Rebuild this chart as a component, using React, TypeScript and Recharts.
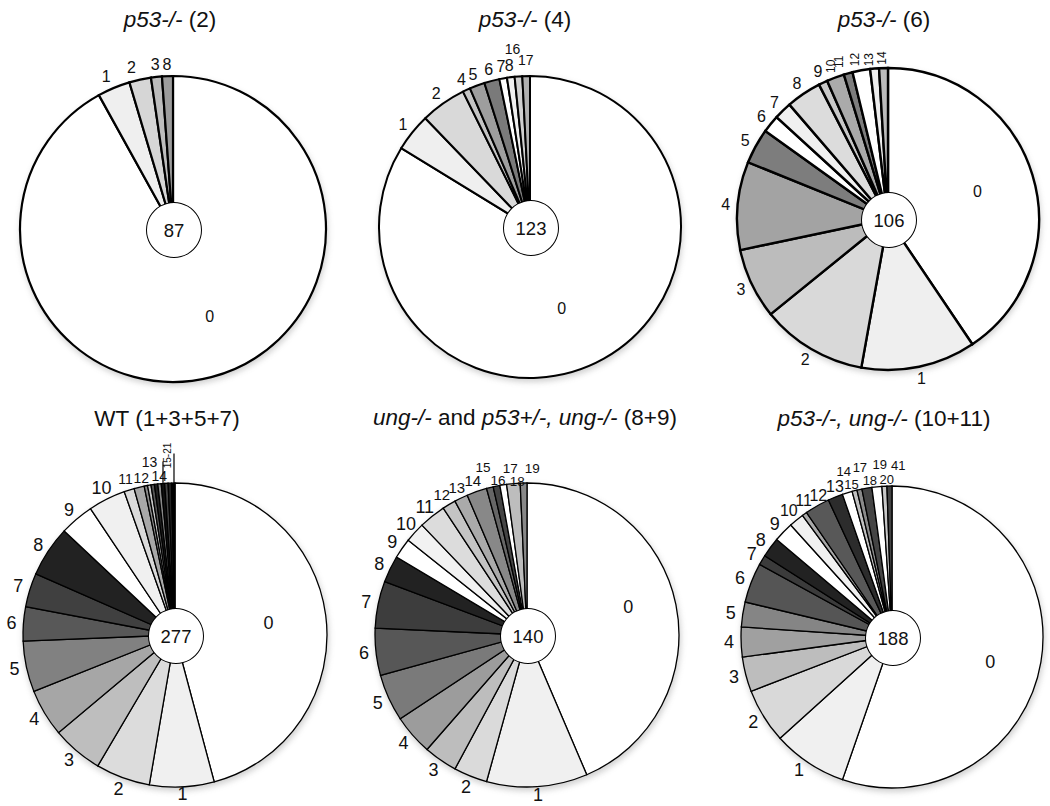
import React from 'react';
import { PieChart, Pie, Cell } from 'recharts';

const FONT = '"Liberation Sans", Arial, Helvetica, sans-serif';
const RAD = Math.PI / 180;

// ---------- DATA ----------
// Panel A: p53-/- (2)
const aCategories = ['0', '1', '2', '3', '8'];
const aCounts = [80, 3, 2, 1, 1];
const aTotal = 87;

// Panel B: p53-/- (4)
const bCategories = ['0', '1', '2', '4', '5', '6', '7', '8', '16', '17'];
const bCounts = [103, 5, 6, 1, 2, 2, 1, 1, 1, 1];
const bTotal = 123;

// Panel C: p53-/- (6)
const cCategories = ['0', '1', '2', '3', '4', '5', '6', '7', '8', '9', '10', '11', '12', '13', '14'];
const cCounts = [43, 13, 12, 8, 10, 4, 2, 2, 4, 1, 2, 1, 2, 1, 1];
const cTotal = 106;

// Panel D: WT (1+3+5+7)
const dCategories = ['0', '1', '2', '3', '4', '5', '6', '7', '8', '9', '10', '11', '12', '13', '14', '15', '16', '17', '18', '19', '20', '21'];
const dCounts = [127, 19, 16, 15, 14, 15, 10, 10, 15, 10, 11, 3, 3, 1, 1, 1, 1, 1, 1, 1, 1, 1];
const dLabels = ['0', '1', '2', '3', '4', '5', '6', '7', '8', '9', '10', '11', '12', '13', '14', '', '', '', '15-21', '', '', ''];
const dTotal = 277;

// Panel E: ung-/- and p53+/-, ung-/- (8+9)
const eCategories = ['0', '1', '2', '3', '4', '5', '6', '7', '8', '9', '10', '11', '12', '13', '14', '15', '16', '17', '18', '19'];
const eCounts = [61, 15, 5, 5, 6, 7, 7, 7, 4, 3, 3, 4, 2, 2, 3, 1, 1, 1, 2, 1];
const eTotal = 140;

// Panel F: p53-/-, ung-/- (10+11)
const fCategories = ['0', '1', '2', '3', '4', '5', '6', '7', '8', '9', '10', '11', '12', '13', '14', '15', '17', '18', '19', '20', '41'];
const fCounts = [104, 15, 11, 7, 6, 5, 8, 2, 4, 4, 3, 1, 5, 3, 2, 1, 1, 2, 2, 1, 1];
const fTotal = 188;

// ---------- STYLES ----------
const aColors = ['#ffffff', '#efefef', '#d6d6d6', '#bdbdbd', '#9c9c9c'];
const bColors = ['#ffffff', '#efefef', '#d9d9d9', '#c4c4c4', '#9e9e9e', '#7a7a7a', '#ffffff', '#f0f0f0', '#d0d0d0', '#b0b0b0'];
const cColors = ['#ffffff', '#efefef', '#d9d9d9', '#bcbcbc', '#a3a3a3', '#7d7d7d', '#ffffff', '#f0f0f0', '#dcdcdc', '#c8c8c8', '#aaaaaa', '#7d7d7d', '#ffffff', '#eeeeee', '#bbbbbb'];
const dColors = ['#ffffff', '#f0f0f0', '#dcdcdc', '#bebebe', '#a6a6a6', '#818181', '#585858', '#404040', '#222222', '#ffffff', '#f0f0f0', '#dadada', '#a8a8a8', '#8a8a8a', '#c8c8c8', '#555555', '#222222', '#888888', '#111111', '#444444', '#222222', '#000000'];
const eColors = ['#ffffff', '#f0f0f0', '#dadada', '#bdbdbd', '#9c9c9c', '#7a7a7a', '#575757', '#3d3d3d', '#222222', '#ffffff', '#f2f2f2', '#dcdcdc', '#c4c4c4', '#aaaaaa', '#888888', '#666666', '#444444', '#ffffff', '#bdbdbd', '#888888'];
const fColors = ['#ffffff', '#f0f0f0', '#d9d9d9', '#bdbdbd', '#a0a0a0', '#858585', '#555555', '#3b3b3b', '#222222', '#ffffff', '#f0f0f0', '#a8a8a8', '#585858', '#2c2c2c', '#ffffff', '#c0c0c0', '#8a8a8a', '#444444', '#ffffff', '#c8c8c8', '#444444'];

type Panel = {
  title: React.ReactNode;
  categories: string[];
  counts: number[];
  labels: string[];
  colors: string[];
  total: number;
  left: number;
  top: number;
  titleX: number;
  titleY: number;
  cx: number;
  cy: number;
  r: number;
  stroke: number;
  font: number;
  small: Record<string, number>;
  rotated: string[];
  nudge: Record<string, [number, number]>;
  bracket?: string;
};

const panels: Panel[] = [
  {
    title: <><i>p53-/-</i> (2)</>,
    categories: aCategories, counts: aCounts, labels: aCategories, colors: aColors, total: aTotal,
    left: 0, top: 0, titleX: 170, titleY: 20, cx: 168, cy: 224, r: 153, stroke: 2.2, font: 16,
    small: {}, rotated: [], nudge: { '0': [13, -4], '1': [-3, 0], '2': [-6, 0] },
  },
  {
    title: <><i>p53-/-</i> (4)</>,
    categories: bCategories, counts: bCounts, labels: bCategories, colors: bColors, total: bTotal,
    left: 350, top: 0, titleX: 525, titleY: 20, cx: 525, cy: 222, r: 151, stroke: 2, font: 16,
    small: { '16': 14, '17': 14 }, rotated: [], nudge: { '0': [-14, 0], '16': [-5, -15], '17': [0, -4] },
  },
  {
    title: <><i>p53-/-</i> (6)</>,
    categories: cCategories, counts: cCounts, labels: cCategories, colors: cColors, total: cTotal,
    left: 700, top: 0, titleX: 884, titleY: 20, cx: 883, cy: 214, r: 151, stroke: 2.4, font: 16,
    small: { '10': 12, '11': 12, '12': 12, '13': 12, '14': 12 }, rotated: ['10', '11', '12', '13', '14'],
    nudge: { '11': [-6, 0], '12': [-4, 1], '13': [-5, 3], '14': [-1, 2] },
  },
  {
    title: <>WT (1+3+5+7)</>,
    categories: dCategories, counts: dCounts, labels: dLabels, colors: dColors, total: dTotal,
    left: 0, top: 400, titleX: 167, titleY: 419, cx: 170, cy: 630, r: 152, stroke: 1.3, font: 18,
    small: { '11': 14, '12': 14, '13': 14, '14': 14, '15-21': 10 }, rotated: ['15-21'],
    nudge: { '1': [0, -5], '12': [5, 2], '13': [6, -12], '14': [12, 3], '15-21': [6, -16] },
    bracket: '15-21',
  },
  {
    title: <><i>ung-/-</i> and <i>p53+/-, ung-/-</i> (8+9)</>,
    categories: eCategories, counts: eCounts, labels: eCategories, colors: eColors, total: eTotal,
    left: 350, top: 400, titleX: 525, titleY: 418, cx: 522, cy: 630, r: 152, stroke: 1.3, font: 18,
    small: { '12': 15, '13': 15, '14': 15, '15': 13.5, '16': 13.5, '17': 13.5, '18': 13.5, '19': 13.5 }, rotated: [],
    nudge: { '0': [9, -9], '1': [0, -4], '12': [-1, 0], '13': [1, 0], '15': [-4, -8], '16': [4, 6], '17': [9, -5], '18': [5, 10], '19': [9, -3] },
  },
  {
    title: <><i>p53-/-, ung-/-</i> (10+11)</>,
    categories: fCategories, counts: fCounts, labels: fCategories, colors: fColors, total: fTotal,
    left: 700, top: 400, titleX: 884, titleY: 419, cx: 887, cy: 632, r: 151, stroke: 1.3, font: 18,
    small: { '10': 16, '11': 16, '12': 16, '13': 16, '14': 13, '15': 13, '17': 13, '18': 13, '19': 13, '20': 13, '41': 13 },
    rotated: [],
    nudge: { '0': [6, 9], '1': [-3, -3], '11': [6, -4], '12': [7, 0], '13': [4, 1], '14': [0, -10], '15': [0, 5], '17': [3, -10], '18': [5, 4], '19': [4, -10], '20': [3, 5], '41': [9, -9] },
  },
];

function makeLabel(p: Panel) {
  return (props: any) => {
    const { cx, cy, midAngle, outerRadius, index } = props;
    const text = p.labels[index];
    if (!text) return null;
    const fs = p.small[text] ?? p.font;
    const rot = p.rotated.includes(text);
    const R = index === 0 ? outerRadius * 0.62 : outerRadius + 12;
    const [dx, dy] = p.nudge[text] ?? [0, 0];
    const x = cx + R * Math.cos(-midAngle * RAD) + dx;
    const y = cy + R * Math.sin(-midAngle * RAD) + dy;
    const edgeY = (lx: number) => cy - Math.sqrt(Math.max(0, outerRadius * outerRadius - (lx - cx) * (lx - cx)));
    return (
      <g key={`lbl-${index}`}>
        <text
          x={x}
          y={y}
          textAnchor="middle"
          dominantBaseline="central"
          fontSize={fs}
          fontFamily={FONT}
          fill="#111"
          transform={rot ? `rotate(-90 ${x} ${y})` : undefined}
        >
          {text}
        </text>
        {p.bracket === text && (
          <>
            <line x1={x - 5} y1={y + 6} x2={x - 5} y2={edgeY(x - 5)} stroke="#000" strokeWidth={1.2} />
            <line x1={x + 6} y1={y - 2} x2={x + 6} y2={edgeY(x + 6)} stroke="#000" strokeWidth={1.2} />
          </>
        )}
      </g>
    );
  };
}

function PiePanel({ p }: { p: Panel }) {
  const data = p.categories.map((c, i) => ({ name: c, value: p.counts[i] }));
  const center = [{ name: 'n', value: p.total }];
  const cx = p.cx - p.left;
  const cy = p.cy - p.top;
  const H = 406;
  return (
    <div style={{ position: 'absolute', left: p.left, top: p.top, width: 350, height: H }}>
      <div
        style={{
          position: 'absolute',
          left: p.titleX - p.left - 250,
          top: p.titleY - p.top - 14,
          width: 500,
          textAlign: 'center',
          fontFamily: FONT,
          fontSize: 22.5,
          lineHeight: '28px',
          color: '#111',
          whiteSpace: 'nowrap',
        }}
      >
        {p.title}
      </div>
      <div style={{ position: 'absolute', left: 0, top: 0 }}>
        <PieChart width={350} height={H}>
          <Pie
            data={[{ name: 's', value: 1 }]}
            dataKey="value"
            cx={cx + 1}
            cy={cy + 3}
            outerRadius={p.r + 1}
            fill="#666666"
            stroke="none"
            className="shadow-pie"
            isAnimationActive={false}
            labelLine={false}
          />
          <Pie
            data={data}
            dataKey="value"
            nameKey="name"
            cx={cx}
            cy={cy}
            outerRadius={p.r}
            innerRadius={0}
            startAngle={90}
            endAngle={-270}
            stroke="#000"
            strokeWidth={p.stroke}
            isAnimationActive={false}
            labelLine={false}
            label={makeLabel(p)}
          >
            {data.map((d, i) => (
              <Cell key={d.name} fill={p.colors[i]} stroke="#000" strokeWidth={p.stroke} />
            ))}
          </Pie>
          <Pie
            data={center}
            dataKey="value"
            cx={cx + 1}
            cy={cy + 1}
            outerRadius={28}
            fill="#000000"
            stroke="none"
            isAnimationActive={false}
            labelLine={false}
          />
          <Pie
            data={center}
            dataKey="value"
            cx={cx + 1}
            cy={cy + 1}
            outerRadius={27}
            fill="#ffffff"
            stroke="none"
            isAnimationActive={false}
            labelLine={false}
            label={(props: any) => (
              <text
                key="ctr"
                x={props.cx}
                y={props.cy}
                textAnchor="middle"
                dominantBaseline="central"
                fontSize={18.5}
                fontFamily={FONT}
                fill="#111"
              >
                {props.value}
              </text>
            )}
          />
        </PieChart>
      </div>
    </div>
  );
}

export default function App() {
  return (
    <div style={{ position: 'absolute', left: 0, top: 0, width: 1050, height: 806, background: '#fff', overflow: 'hidden' }}>
      <style>{`.shadow-pie { filter: blur(2px); opacity: 0.55; }`}</style>
      {panels.map((p, i) => (
        <PiePanel key={i} p={p} />
      ))}
    </div>
  );
}
